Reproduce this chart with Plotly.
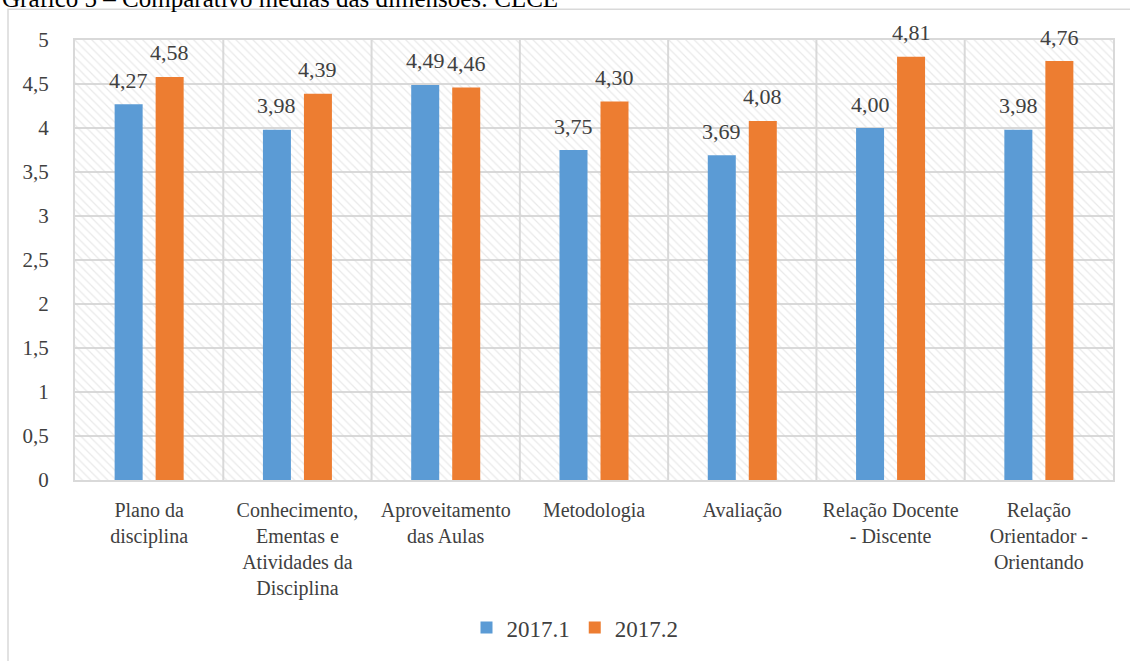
import plotly.graph_objects as go

categories = [
    "Plano da<br>disciplina",
    "Conhecimento,<br>Ementas e<br>Atividades da<br>Disciplina",
    "Aproveitamento<br>das Aulas",
    "Metodologia",
    "Avaliação",
    "Relação Docente<br>- Discente",
    "Relação<br>Orientador -<br>Orientando",
]
series_names = ["2017.1", "2017.2"]
values_2017_1 = [4.27, 3.98, 4.49, 3.75, 3.69, 4.00, 3.98]
values_2017_2 = [4.58, 4.39, 4.46, 4.30, 4.08, 4.81, 4.76]
y_ticks = [0, 0.5, 1, 1.5, 2, 2.5, 3, 3.5, 4, 4.5, 5]
y_tick_labels = ["0", "0,5", "1", "1,5", "2", "2,5", "3", "3,5", "4", "4,5", "5"]
title_text = "Gráfico 5 – Comparativo médias das dimensões: CLCE"

W, H = 1130, 661
L, R, T, B = 75, 1113, 40, 484
BARGAP, GROUPGAP = 0.447, 0.317

def px_x(p):
    return (p - L) / (R - L)

def px_y(p):
    return (B - p) / (B - T)

FONT = "Liberation Serif, Times New Roman, serif"
TXT = "#404040"
GRID = "#d9d9d9"

fig = go.Figure()

# hatched plot background
fig.add_trace(go.Bar(
    x=categories, y=[5] * len(categories), width=1, xaxis="x", yaxis="y",
    marker=dict(color="rgba(0,0,0,0)", line=dict(width=0),
                pattern=dict(shape="\\", fgcolor="#d4d4d4", bgcolor="rgba(0,0,0,0)",
                             size=6, solidity=0.2)),
    showlegend=False, hoverinfo="skip",
))

def fmt(v):
    return f"{v:.2f}".replace(".", ",")

cat_px = (R - L) / len(categories)
slot_px = (1 - BARGAP) * cat_px / 2

for k, (name, vals, col) in enumerate([(series_names[0], values_2017_1, "#5B9BD5"),
                                       (series_names[1], values_2017_2, "#ED7D31")]):
    fig.add_trace(go.Bar(
        x=categories, y=vals, name=name, xaxis="x2", yaxis="y",
        marker=dict(color=col, line=dict(width=0)),
        hoverinfo="x+y+name",
    ))
    shift = (k - 0.5) * slot_px
    for c, v in zip(categories, vals):
        fig.add_annotation(x=c, y=v, xref="x2", yref="y", text=fmt(v), showarrow=False,
                           xshift=shift, yshift=24, xanchor="center", yanchor="middle",
                           font=dict(family=FONT, size=22, color=TXT))

axis_common = dict(categoryorder="array", categoryarray=categories,
                   range=[-0.5, len(categories) - 0.5], automargin=False)

fig.update_layout(
    width=W, height=H,
    margin=dict(l=L, r=W - R, t=T, b=H - B),
    paper_bgcolor="white", plot_bgcolor="white",
    barmode="group", bargap=BARGAP, bargroupgap=GROUPGAP,
    font=dict(family=FONT, color=TXT),
    xaxis=dict(**axis_common, showgrid=False, showline=True, linecolor=GRID, linewidth=2,
               tickfont=dict(family=FONT, size=20, color=TXT), ticks="",
               ticklabelstandoff=11, mirror=True),
    xaxis2=dict(**axis_common, overlaying="x", showticklabels=False, showgrid=False,
                showline=False, ticks=""),
    yaxis=dict(range=[0, 5], tickvals=y_ticks, ticktext=y_tick_labels, automargin=False,
               showgrid=True, gridcolor=GRID, gridwidth=2, zeroline=False,
               showline=True, linecolor=GRID, linewidth=2, mirror=True,
               tickfont=dict(family=FONT, size=21, color=TXT), ticks="",
               ticklabelstandoff=20),
    legend=dict(orientation="h", x=px_x(575), xanchor="center", y=px_y(633), yanchor="middle",
                font=dict(family=FONT, size=23, color=TXT), bgcolor="rgba(0,0,0,0)",
                itemwidth=30),
    showlegend=True,
)

# vertical category separators
for i in range(1, len(categories)):
    fig.add_shape(type="line", xref="x", yref="paper", x0=i - 0.5, x1=i - 0.5, y0=0, y1=1,
                  line=dict(color=GRID, width=2), layer="below")

# outer chart frame
fig.add_shape(type="rect", xref="paper", yref="paper",
              x0=px_x(8), x1=px_x(1140), y0=px_y(9), y1=px_y(675),
              line=dict(color=GRID, width=1.5), layer="below")

# partially cropped title (as in the reference)
fig.add_annotation(text=title_text, xref="paper", yref="paper", x=px_x(0), y=px_y(-2),
                   xanchor="left", yanchor="middle", showarrow=False,
                   font=dict(family=FONT, size=25, color="black"))

fig.write_html("out.html", config={"displayModeBar": False},
               post_script="document.body.style.margin='0';")
